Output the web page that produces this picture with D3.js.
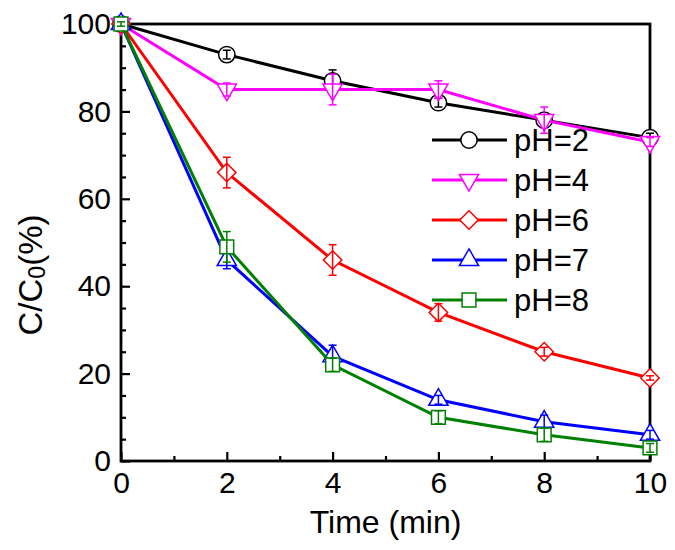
<!DOCTYPE html>
<html>
<head>
<meta charset="utf-8">
<script src="https://cdn.jsdelivr.net/npm/d3@7"></script>
<style>
  body { margin: 0; background: #fff; }
  text { font-family: "Liberation Sans", Arial, sans-serif; }
</style>
</head>
<body>
<script>
'use strict';

// time points (min)
const times = [0, 2, 4, 6, 8, 10];

// C/C0 (%) per pH, with error bars
const ph2 = [100, 93, 87, 82, 78, 74];
const err2 = [0.5, 1, 2.5, 1, 1, 1];
const ph4 = [100, 85, 85, 85, 78, 73];
const err4 = [0.5, 1.5, 3.5, 2, 3, 1];
const ph6 = [100, 66, 46, 34, 25, 19];
const err6 = [0.5, 3.5, 3.5, 2, 1, 0.5];
const ph7 = [100, 46, 24, 14, 9, 6];
const err7 = [0.5, 2, 2.5, 1, 1.5, 1];
const ph8 = [100, 49, 22, 10, 6, 3];
const err8 = [0.5, 3.5, 1.5, 1.5, 1.5, 1];

const seriesNames = ['pH=2', 'pH=4', 'pH=6', 'pH=7', 'pH=8'];
const xTicks = [0, 2, 4, 6, 8, 10];
const yTicks = [0, 20, 40, 60, 80, 100];

(function () {

  const series = [
    { name: seriesNames[0], vals: ph2, err: err2, color: '#000000', shape: 'circle' },
    { name: seriesNames[1], vals: ph4, err: err4, color: '#ff00ff', shape: 'down' },
    { name: seriesNames[2], vals: ph6, err: err6, color: '#ff0000', shape: 'diamond' },
    { name: seriesNames[3], vals: ph7, err: err7, color: '#0000ff', shape: 'up' },
    { name: seriesNames[4], vals: ph8, err: err8, color: '#008000', shape: 'square' }
  ];

  const width = 675, height = 550;
  const mLeft = 121, mRight = 650, mTop = 24, mBottom = 461;

  const svg = d3.select('body').append('svg')
    .attr('width', width)
    .attr('height', height);

  const x = d3.scaleLinear().domain([0, 10]).range([mLeft, mRight]);
  const y = d3.scaleLinear().domain([0, 100]).range([mBottom, mTop]);

  // marker path for a shape
  function markerPath(shape) {
    if (shape === 'circle') return d3.symbol(d3.symbolCircle, 210)();
    if (shape === 'square') return d3.symbol(d3.symbolSquare, 190)();
    if (shape === 'diamond') return d3.symbol(d3.symbolSquare, 170)();
    return d3.symbol(d3.symbolTriangle, 160)();
  }
  function markerRotate(shape) {
    if (shape === 'diamond') return 45;
    if (shape === 'down') return 180;
    return 0;
  }

  // minor ticks
  const xMinor = d3.axisBottom(x).tickValues(d3.range(1, 10, 2)).tickSize(-5).tickFormat('');
  svg.append('g').attr('transform', 'translate(0,' + mBottom + ')').call(xMinor)
    .call(g => g.select('.domain').remove());
  const yMinor = d3.axisLeft(y).tickValues(d3.range(5, 100, 5).filter(v => v % 20 !== 0)).tickSize(-5).tickFormat('');
  svg.append('g').attr('transform', 'translate(' + mLeft + ',0)').call(yMinor)
    .call(g => g.select('.domain').remove());

  // major ticks with labels
  const xAxis = d3.axisBottom(x).tickValues(xTicks).tickSize(-9).tickPadding(11);
  svg.append('g').attr('transform', 'translate(0,' + mBottom + ')').call(xAxis)
    .call(g => g.select('.domain').remove());
  const yAxis = d3.axisLeft(y).tickValues(yTicks).tickSize(-9).tickPadding(10);
  svg.append('g').attr('transform', 'translate(' + mLeft + ',0)').call(yAxis)
    .call(g => g.select('.domain').remove());

  svg.selectAll('.tick line').attr('stroke', '#000').attr('stroke-width', 2.2);
  svg.selectAll('.tick text')
    .style('font-family', '"Liberation Sans", Arial, sans-serif')
    .style('font-size', '30px')
    .attr('fill', '#000');

  // frame
  svg.append('rect')
    .attr('x', mLeft).attr('y', mTop)
    .attr('width', mRight - mLeft).attr('height', mBottom - mTop)
    .attr('fill', 'none').attr('stroke', '#000').attr('stroke-width', 2.8);

  const line = d3.line()
    .x((d, i) => x(times[i]))
    .y(d => y(d));

  series.forEach(s => {
    svg.append('path')
      .datum(s.vals)
      .attr('d', line)
      .attr('fill', 'none')
      .attr('stroke', s.color)
      .attr('stroke-width', 3);

    // hollow markers with white inside, error bars on top
    svg.selectAll(null)
      .data(s.vals)
      .enter()
      .append('path')
      .attr('d', markerPath(s.shape))
      .attr('transform', (d, i) => 'translate(' + x(times[i]) + ',' + y(d) + ')rotate(' + markerRotate(s.shape) + ')')
      .attr('fill', '#fff')
      .attr('stroke', s.color)
      .attr('stroke-width', 1.5);

    const eb = svg.append('g').attr('stroke', s.color).attr('stroke-width', 1.5);
    s.vals.forEach((v, i) => {
      const cx = x(times[i]);
      const y1 = y(v + s.err[i]), y2 = y(v - s.err[i]);
      eb.append('line').attr('x1', cx).attr('x2', cx).attr('y1', y1).attr('y2', y2);
      eb.append('line').attr('x1', cx - 4).attr('x2', cx + 4).attr('y1', y1).attr('y2', y1);
      eb.append('line').attr('x1', cx - 4).attr('x2', cx + 4).attr('y1', y2).attr('y2', y2);
    });
  });

  // legend
  const legend = svg.append('g');
  series.forEach((s, i) => {
    const ly = 140 + i * 40;
    legend.append('line')
      .attr('x1', 432).attr('x2', 507)
      .attr('y1', ly).attr('y2', ly)
      .attr('stroke', s.color).attr('stroke-width', 3);
    legend.append('path')
      .attr('d', markerPath(s.shape))
      .attr('transform', 'translate(469,' + ly + ')rotate(' + markerRotate(s.shape) + ')')
      .attr('fill', '#fff')
      .attr('stroke', s.color)
      .attr('stroke-width', 1.5);
    legend.append('text')
      .attr('x', 514)
      .attr('y', ly + 11)
      .style('font-size', '31px')
      .text(s.name);
  });

  // axis titles
  svg.append('text')
    .attr('x', (mLeft + mRight) / 2)
    .attr('y', 533)
    .attr('text-anchor', 'middle')
    .style('font-size', '32px')
    .text('Time (min)');

  const yTitle = svg.append('text')
    .attr('transform', 'translate(42,275)rotate(-90)')
    .attr('text-anchor', 'middle')
    .style('font-size', '33px');
  yTitle.append('tspan').text('C/C');
  yTitle.append('tspan').attr('dy', 3).style('font-size', '23px').text('0');
  yTitle.append('tspan').attr('dy', -3).text('(%)');

})();
</script>
</body>
</html>
